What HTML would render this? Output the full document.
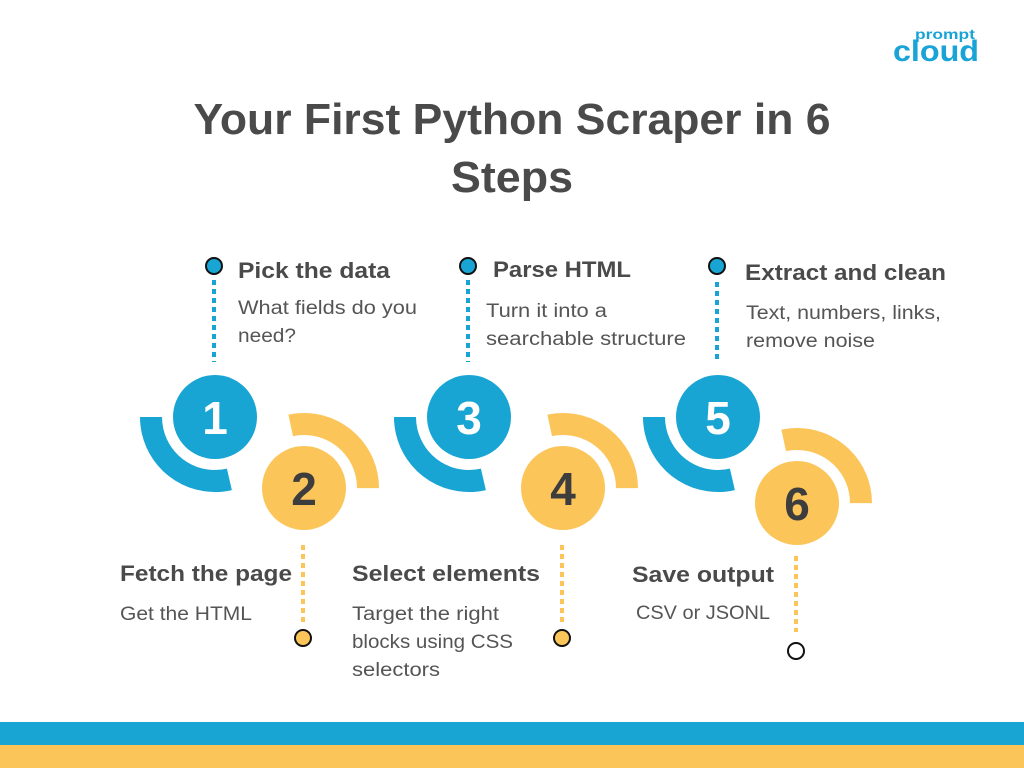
<!DOCTYPE html>
<html><head><meta charset="utf-8"><style>
html,body{margin:0;padding:0;background:#fff;}
svg{display:block;font-family:"Liberation Sans",sans-serif;}
</style></head><body>
<svg width="1024" height="768" viewBox="0 0 1024 768" xmlns="http://www.w3.org/2000/svg">
<rect width="1024" height="768" fill="#fff"/>
<!-- logo -->
<text x="915" y="39" font-size="14" font-weight="bold" fill="#1aa3d6" textLength="60" lengthAdjust="spacingAndGlyphs">prompt</text>
<text x="893" y="61" font-size="30" font-weight="bold" fill="#1aa3d6" textLength="86" lengthAdjust="spacingAndGlyphs">cloud</text>
<!-- title -->
<text x="512" y="134" font-size="44" font-weight="bold" fill="#4a4a4a" text-anchor="middle" textLength="637" lengthAdjust="spacingAndGlyphs">Your First Python Scraper in 6</text>
<text x="512" y="192" font-size="44" font-weight="bold" fill="#4a4a4a" text-anchor="middle" textLength="122" lengthAdjust="spacingAndGlyphs">Steps</text>

<g fill="none" stroke-width="22">
  <circle cx="215" cy="417" r="64" stroke="#19a5d4" stroke-dasharray="115 400" transform="rotate(77 215 417)"/>
  <circle cx="469" cy="417" r="64" stroke="#19a5d4" stroke-dasharray="115 400" transform="rotate(77 469 417)"/>
  <circle cx="718" cy="417" r="64" stroke="#19a5d4" stroke-dasharray="115 400" transform="rotate(77 718 417)"/>
  <circle cx="304" cy="488" r="64" stroke="#fbc55a" stroke-dasharray="114 400" transform="rotate(-102 304 488)"/>
  <circle cx="563" cy="488" r="64" stroke="#fbc55a" stroke-dasharray="114 400" transform="rotate(-102 563 488)"/>
  <circle cx="797" cy="503" r="64" stroke="#fbc55a" stroke-dasharray="114 400" transform="rotate(-102 797 503)"/>
</g>
<g>
  <circle cx="215" cy="417" r="42" fill="#19a5d4"/>
  <circle cx="469" cy="417" r="42" fill="#19a5d4"/>
  <circle cx="718" cy="417" r="42" fill="#19a5d4"/>
  <circle cx="304" cy="488" r="42" fill="#fbc55a"/>
  <circle cx="563" cy="488" r="42" fill="#fbc55a"/>
  <circle cx="797" cy="503" r="42" fill="#fbc55a"/>
</g>
<g font-size="46" font-weight="bold" text-anchor="middle">
  <text x="215" y="434" fill="#fff">1</text>
  <text x="469" y="434" fill="#fff">3</text>
  <text x="718" y="434" fill="#fff">5</text>
  <text x="304" y="505" fill="#3d3d3d">2</text>
  <text x="563" y="505" fill="#3d3d3d">4</text>
  <text x="797" y="520" fill="#3d3d3d">6</text>
</g>
<!-- dotted lines -->
<g stroke-width="4" stroke-dasharray="5 4">
  <line x1="214" y1="280" x2="214" y2="362" stroke="#19a5d4"/>
  <line x1="468" y1="280" x2="468" y2="362" stroke="#19a5d4"/>
  <line x1="717" y1="282" x2="717" y2="362" stroke="#19a5d4"/>
  <line x1="303" y1="545" x2="303" y2="625" stroke="#fbc55a"/>
  <line x1="562" y1="545" x2="562" y2="625" stroke="#fbc55a"/>
  <line x1="796" y1="556" x2="796" y2="632" stroke="#fbc55a"/>
</g>
<g stroke="#111" stroke-width="2">
  <circle cx="214" cy="266" r="8" fill="#19a5d4"/>
  <circle cx="468" cy="266" r="8" fill="#19a5d4"/>
  <circle cx="717" cy="266" r="8" fill="#19a5d4"/>
  <circle cx="303" cy="638" r="8" fill="#fbc55a"/>
  <circle cx="562" cy="638" r="8" fill="#fbc55a"/>
  <circle cx="796" cy="651" r="8" fill="#fff"/>
</g>
<!-- labels -->
<g font-size="22" font-weight="bold" fill="#4a4a4a" lengthAdjust="spacingAndGlyphs">
  <text x="238" y="278" textLength="152" lengthAdjust="spacingAndGlyphs">Pick the data</text>
  <text x="493" y="277" textLength="138" lengthAdjust="spacingAndGlyphs">Parse HTML</text>
  <text x="745" y="280" textLength="201" lengthAdjust="spacingAndGlyphs">Extract and clean</text>
  <text x="120" y="581" textLength="172" lengthAdjust="spacingAndGlyphs">Fetch the page</text>
  <text x="352" y="581" textLength="188" lengthAdjust="spacingAndGlyphs">Select elements</text>
  <text x="632" y="582" textLength="142" lengthAdjust="spacingAndGlyphs">Save output</text>
</g>
<g font-size="19" fill="#555">
  <text x="238" y="314" textLength="179" lengthAdjust="spacingAndGlyphs">What fields do you</text>
  <text x="238" y="342" textLength="58" lengthAdjust="spacingAndGlyphs">need?</text>
  <text x="486" y="317" textLength="121" lengthAdjust="spacingAndGlyphs">Turn it into a</text>
  <text x="486" y="345" textLength="200" lengthAdjust="spacingAndGlyphs">searchable structure</text>
  <text x="746" y="319" textLength="195" lengthAdjust="spacingAndGlyphs">Text, numbers, links,</text>
  <text x="746" y="347" textLength="129" lengthAdjust="spacingAndGlyphs">remove noise</text>
  <text x="120" y="620" textLength="132" lengthAdjust="spacingAndGlyphs">Get the HTML</text>
  <text x="352" y="620" textLength="147" lengthAdjust="spacingAndGlyphs">Target the right</text>
  <text x="352" y="648" textLength="161" lengthAdjust="spacingAndGlyphs">blocks using CSS</text>
  <text x="352" y="676" textLength="88" lengthAdjust="spacingAndGlyphs">selectors</text>
  <text x="636" y="619" textLength="134" lengthAdjust="spacingAndGlyphs">CSV or JSONL</text>
</g>
<rect x="0" y="722" width="1024" height="23" fill="#19a5d4"/>
<rect x="0" y="745" width="1024" height="23" fill="#fbc55a"/>
</svg>
</body></html>
